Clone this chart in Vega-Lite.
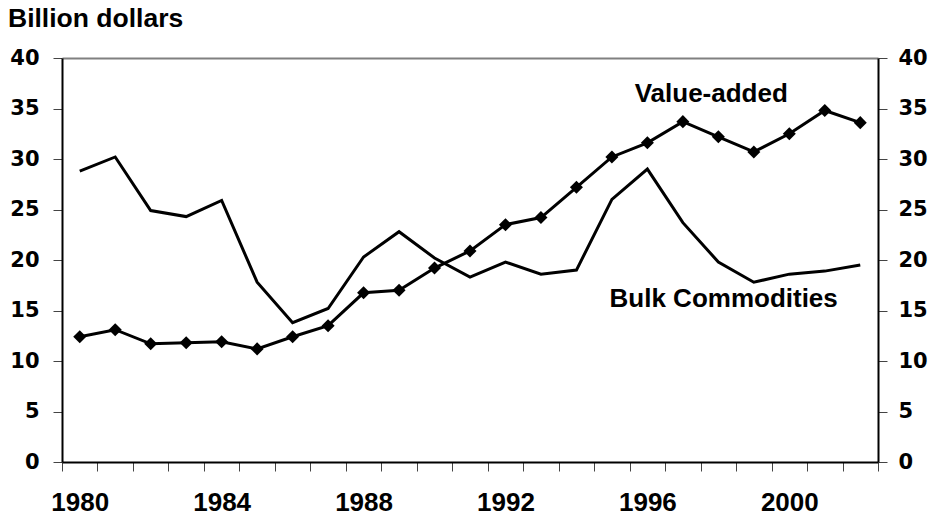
{
  "$schema": "https://vega.github.io/schema/vega-lite/v6.json",
  "width": 816,
  "height": 404,
  "autosize": "none",
  "padding": {"left": 62, "top": 58, "right": 55, "bottom": 59},
  "background": "white",
  "config": {
    "view": {"stroke": null},
    "font": "Liberation Sans",
    "axis": {"labelFont": "Liberation Sans", "labelFontWeight": "bold", "labelColor": "black", "domainColor": "black", "domainWidth": 2, "tickColor": "#444444", "tickWidth": 1}
  },
  "title": {"text": "Billion dollars", "anchor": "start", "frame": "group", "dx": -54, "offset": 15, "font": "Liberation Sans", "fontSize": 26.5, "fontWeight": "bold", "color": "black"},
  "datasets": {
    "series": [
      {"year": 1980, "value": 28.8, "series": "Bulk Commodities"},
      {"year": 1981, "value": 30.2, "series": "Bulk Commodities"},
      {"year": 1982, "value": 24.9, "series": "Bulk Commodities"},
      {"year": 1983, "value": 24.3, "series": "Bulk Commodities"},
      {"year": 1984, "value": 25.9, "series": "Bulk Commodities"},
      {"year": 1985, "value": 17.8, "series": "Bulk Commodities"},
      {"year": 1986, "value": 13.8, "series": "Bulk Commodities"},
      {"year": 1987, "value": 15.2, "series": "Bulk Commodities"},
      {"year": 1988, "value": 20.3, "series": "Bulk Commodities"},
      {"year": 1989, "value": 22.8, "series": "Bulk Commodities"},
      {"year": 1990, "value": 20.2, "series": "Bulk Commodities"},
      {"year": 1991, "value": 18.3, "series": "Bulk Commodities"},
      {"year": 1992, "value": 19.8, "series": "Bulk Commodities"},
      {"year": 1993, "value": 18.6, "series": "Bulk Commodities"},
      {"year": 1994, "value": 19.0, "series": "Bulk Commodities"},
      {"year": 1995, "value": 26.0, "series": "Bulk Commodities"},
      {"year": 1996, "value": 29.0, "series": "Bulk Commodities"},
      {"year": 1997, "value": 23.7, "series": "Bulk Commodities"},
      {"year": 1998, "value": 19.8, "series": "Bulk Commodities"},
      {"year": 1999, "value": 17.8, "series": "Bulk Commodities"},
      {"year": 2000, "value": 18.6, "series": "Bulk Commodities"},
      {"year": 2001, "value": 18.9, "series": "Bulk Commodities"},
      {"year": 2002, "value": 19.5, "series": "Bulk Commodities"},
      {"year": 1980, "value": 12.4, "series": "Value-added"},
      {"year": 1981, "value": 13.1, "series": "Value-added"},
      {"year": 1982, "value": 11.7, "series": "Value-added"},
      {"year": 1983, "value": 11.8, "series": "Value-added"},
      {"year": 1984, "value": 11.9, "series": "Value-added"},
      {"year": 1985, "value": 11.2, "series": "Value-added"},
      {"year": 1986, "value": 12.4, "series": "Value-added"},
      {"year": 1987, "value": 13.5, "series": "Value-added"},
      {"year": 1988, "value": 16.75, "series": "Value-added"},
      {"year": 1989, "value": 17.0, "series": "Value-added"},
      {"year": 1990, "value": 19.2, "series": "Value-added"},
      {"year": 1991, "value": 20.9, "series": "Value-added"},
      {"year": 1992, "value": 23.5, "series": "Value-added"},
      {"year": 1993, "value": 24.2, "series": "Value-added"},
      {"year": 1994, "value": 27.2, "series": "Value-added"},
      {"year": 1995, "value": 30.2, "series": "Value-added"},
      {"year": 1996, "value": 31.6, "series": "Value-added"},
      {"year": 1997, "value": 33.7, "series": "Value-added"},
      {"year": 1998, "value": 32.2, "series": "Value-added"},
      {"year": 1999, "value": 30.7, "series": "Value-added"},
      {"year": 2000, "value": 32.5, "series": "Value-added"},
      {"year": 2001, "value": 34.8, "series": "Value-added"},
      {"year": 2002, "value": 33.6, "series": "Value-added"}
    ],
    "labels": [
      {"label": "Value-added", "year": 1997.8, "value": 35.6},
      {"label": "Bulk Commodities", "year": 1998.15, "value": 15.35}
    ]
  },
  "encoding": {
    "x": {
      "field": "year",
      "type": "quantitative",
      "scale": {"domain": [1979.5, 2002.5], "nice": false, "zero": false},
      "axis": {
        "title": null,
        "grid": false,
        "values": [1979.5, 1980.5, 1981.5, 1982.5, 1983.5, 1984.5, 1985.5, 1986.5, 1987.5, 1988.5, 1989.5, 1990.5, 1991.5, 1992.5, 1993.5, 1994.5, 1995.5, 1996.5, 1997.5, 1998.5, 1999.5, 2000.5, 2001.5, 2002.5, 1980, 1984, 1988, 1992, 1996, 2000],
        "labelExpr": "datum.value % 1 == 0 ? '' + datum.value : ''",
        "labelOverlap": false,
        "labelFlush": false,
        "labelFontSize": 26,
        "labelPadding": 18,
        "tickSize": 9,
        "tickOpacity": {"condition": {"test": "datum.value % 1 == 0", "value": 0}, "value": 1}
      }
    }
  },
  "layer": [
    {
      "data": {"name": "series"},
      "transform": [{"filter": "datum.series == 'Bulk Commodities'"}],
      "mark": {"type": "line", "color": "black", "strokeWidth": 3},
      "encoding": {
        "y": {
          "field": "value",
          "type": "quantitative",
          "scale": {"domain": [0, 40], "nice": false},
          "axis": {
            "title": null,
            "orient": "left",
            "values": [0, 5, 10, 15, 20, 25, 30, 35, 40],
            "labelFont": "DejaVu Sans",
            "labelFontSize": 21,
            "labelPadding": 14,
            "tickSize": 9,
            "grid": true,
            "gridColor": "#808080",
            "gridWidth": 2,
            "gridOpacity": {"condition": {"test": "datum.value == 40", "value": 1}, "value": 0}
          }
        }
      }
    },
    {
      "data": {"name": "series"},
      "transform": [{"filter": "datum.series == 'Value-added'"}],
      "mark": {"type": "line", "color": "black", "strokeWidth": 3, "point": {"filled": true, "shape": "diamond", "size": 170, "color": "black"}},
      "encoding": {
        "y": {
          "field": "value",
          "type": "quantitative",
          "scale": {"domain": [0, 40], "nice": false},
          "axis": {
            "title": null,
            "orient": "right",
            "values": [0, 5, 10, 15, 20, 25, 30, 35, 40],
            "labelFont": "DejaVu Sans",
            "labelFontSize": 21,
            "labelPadding": 11,
            "tickSize": 9,
            "grid": false
          }
        }
      }
    },
    {
      "data": {"name": "labels"},
      "mark": {"type": "text", "font": "Liberation Sans", "fontSize": 26, "fontWeight": "bold", "color": "black", "align": "center", "baseline": "alphabetic"},
      "encoding": {
        "y": {"field": "value", "type": "quantitative", "scale": {"domain": [0, 40], "nice": false}, "axis": null},
        "text": {"field": "label"}
      }
    }
  ],
  "resolve": {"scale": {"y": "independent"}}
}
